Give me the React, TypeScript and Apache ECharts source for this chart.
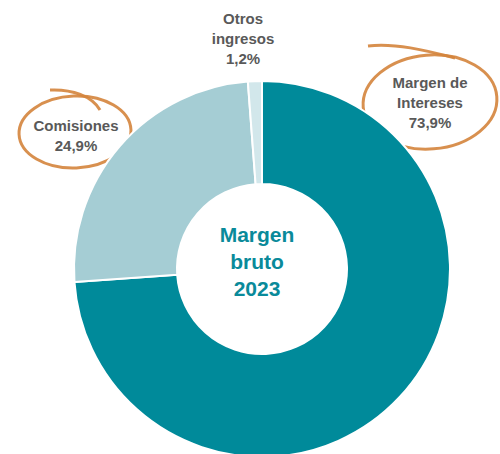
import React, { useEffect, useRef } from "react";
import * as echarts from "echarts";

const categories = ["Margen de\nIntereses", "Comisiones", "Otros\ningresos"];
const values = [73.9, 24.9, 1.2];
const colors = ["#008A9A", "#A5CDD4", "#D2E7EB"];
const centerTitle = "Margen\nbruto\n2023";

export default function App() {
  const ref = useRef<HTMLDivElement>(null);
  useEffect(() => {
    document.body.style.margin = "0";
    const chart = echarts.init(ref.current!, null, { renderer: "svg" });
    const labelPos = [
      { x: 430, y: 102 },
      { x: 76, y: 135 },
      { x: 243, y: 38 },
    ];
    const orange = "#D4843C";
    chart.setOption({
      animation: false,
      backgroundColor: "#ffffff",
      series: [
        {
          type: "pie",
          center: [262, 269],
          radius: [85, 188],
          startAngle: 90,
          clockwise: true,
          avoidLabelOverlap: false,
          itemStyle: { borderColor: "#ffffff", borderWidth: 2 },
          label: {
            show: true,
            position: "outside",
            color: "#595959",
            fontFamily: "Liberation Sans, Arial, sans-serif",
            fontWeight: "bold",
            fontSize: 15,
            lineHeight: 20,
            align: "center",
            formatter: (p: any) =>
              p.name + "\n" + p.value.toFixed(1).replace(".", ",") + "%",
          },
          labelLine: { show: false },
          labelLayout: (p: any) => ({
            x: labelPos[p.dataIndex].x,
            y: labelPos[p.dataIndex].y,
            align: "center",
            verticalAlign: "middle",
          }),
          data: categories.map((c, i) => ({
            name: c,
            value: values[i],
            itemStyle: { color: colors[i] },
          })),
        },
      ],
      graphic: [
        {
          type: "text",
          x: 257,
          y: 261,
          style: {
            text: centerTitle,
            fill: "#0A8A9A",
            font: "bold 21px 'Liberation Sans', Arial, sans-serif",
            lineHeight: 27,
            align: "center",
            verticalAlign: "middle",
          },
        },
        {
          type: "ellipse",
          shape: { cx: 0, cy: 0, rx: 67, ry: 47 },
          x: 430,
          y: 102,
          rotation: 0.08,
          style: { fill: "none", stroke: orange, lineWidth: 3, opacity: 0.9 },
        },
        {
          type: "bezierCurve",
          shape: { x1: 368, y1: 46, cpx1: 395, cpy1: 43, cpx2: 425, cpy2: 50, x2: 455, y2: 58 },
          style: { fill: "none", stroke: orange, lineWidth: 3, opacity: 0.9 },
        },
        {
          type: "ellipse",
          shape: { cx: 0, cy: 0, rx: 56, ry: 36 },
          x: 75,
          y: 132,
          rotation: 0.04,
          style: { fill: "none", stroke: orange, lineWidth: 3, opacity: 0.9 },
        },
        {
          type: "bezierCurve",
          shape: { x1: 50, y1: 90, cpx1: 72, cpy1: 89, cpx2: 92, cpy2: 96, x2: 100, y2: 110 },
          style: { fill: "none", stroke: orange, lineWidth: 3, opacity: 0.9 },
        },
      ],
    });
    return () => chart.dispose();
  }, []);
  return <div ref={ref} style={{ width: 500, height: 454 }} />;
}
